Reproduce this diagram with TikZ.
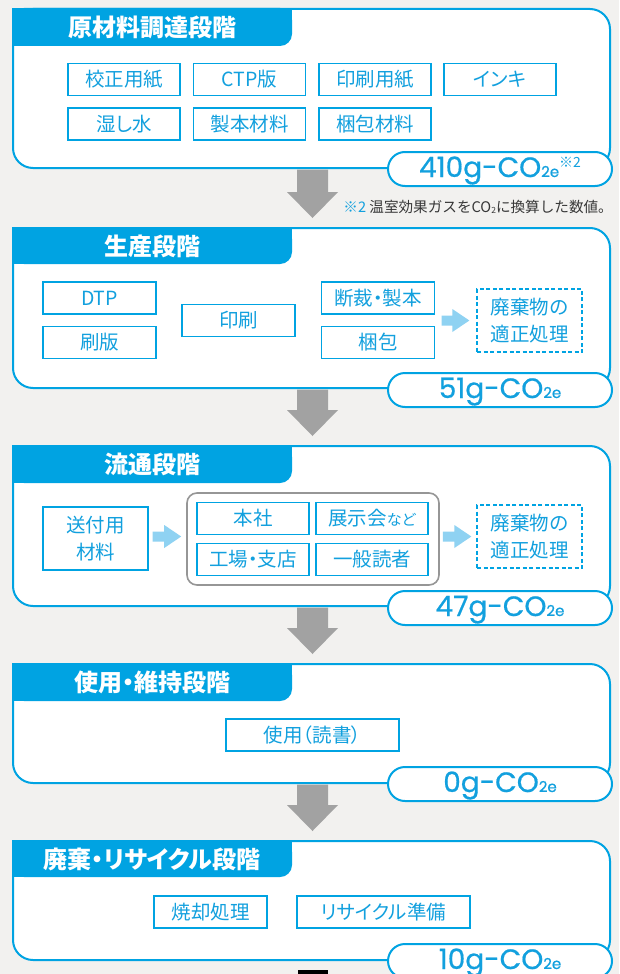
\documentclass[tikz,border=0pt]{standalone}
\usepackage{fontspec}
\setmainfont{Noto Sans CJK JP}[RawFeature=+palt]
\newfontfamily\cjkfixed{Noto Sans CJK JP}
\newfontfamily\valfont{Poppins}[FakeBold=0.6]
\usetikzlibrary{calc}
\definecolor{cblue}{RGB}{0,163,226}
\definecolor{tblue}{RGB}{18,160,222}
\definecolor{lblue}{RGB}{143,210,242}
\definecolor{garrow}{RGB}{162,162,162}
\definecolor{bgc}{RGB}{242,241,239}
\definecolor{gline}{RGB}{150,150,150}
\definecolor{notegray}{RGB}{55,55,55}

\newcommand\mystage[5]{% #1 name, #2 top, #3 header bottom, #4 bottom, #5 title
  \draw[panel] (13,#2) rectangle (610,#4);
  \fill[cblue,rounded corners=12pt] (12,#2-1) rectangle (292,#3);
  \fill[cblue] (12,#2-1) rectangle (279,#3);
  \fill[cblue] (12,#2-1) rectangle (292,#3-13);
  \node[stagetitle] (#1) at (152,{(#2+#3)/2}) {#5};
  \coordinate (#1-top) at (312.5,#2);
  \coordinate (#1-bot) at (312.5,#4);
}
\newcommand\grayarrow[2]{% from coordinate #1 down to tip #2
  \path (#1) coordinate (da-s);
  \path (#2) coordinate (da-t);
  \fill[garrow] ([xshift=-15.5pt]da-s) -- ([xshift=15.5pt]da-s)
    -- ([xshift=15.5pt,yshift=26pt]da-t) -- ([xshift=25.5pt,yshift=26pt]da-t)
    -- (da-t) -- ([xshift=-25.5pt,yshift=26pt]da-t)
    -- ([xshift=-15.5pt,yshift=26pt]da-t) -- cycle;
}
\newcommand\bluearrow[2]{% from coordinate #1 right to tip #2
  \path (#1) coordinate (ra-s);
  \path (#2) coordinate (ra-t);
  \fill[lblue] ([yshift=5pt]ra-s) -- ([xshift=-17pt,yshift=5pt]ra-t)
    -- ([xshift=-17pt,yshift=11.5pt]ra-t) -- (ra-t)
    -- ([xshift=-17pt,yshift=-11.5pt]ra-t) -- ([xshift=-17pt,yshift=-5pt]ra-t)
    -- ([yshift=-5pt]ra-s) -- cycle;
}
\newcommand\valtext[1]{{\valfont\fontsize{28}{28}\selectfont #1g-CO}{\valfont\fontsize{15}{15}\selectfont 2e}}

\begin{document}
\begin{tikzpicture}[x=1pt,y=-1pt,
  panel/.style={draw=cblue,line width=2pt,fill=white,rounded corners=20pt},
  stagetitle/.style={text=white,font=\fontsize{24}{24}\selectfont\bfseries,inner sep=0pt},
  bx/.style={draw=cblue,line width=1.4pt,fill=white,text=tblue,
    font=\fontsize{19.5}{24}\selectfont,minimum width=112pt,minimum height=32pt,inner sep=0pt},
  widebx/.style={bx,minimum width=173pt},
  dbx/.style={draw=cblue,line width=1.3pt,dash pattern=on 4pt off 2.5pt,fill=white,text=tblue,
    font=\fontsize{19.5}{27.5}\selectfont,align=center,minimum width=105pt,minimum height=63pt,inner sep=0pt},
  tallbx/.style={bx,align=center,font=\fontsize{19.5}{26.5}\selectfont,minimum width=105pt,minimum height=63pt},
  grp/.style={draw=gline,line width=1.6pt,fill=white,rounded corners=10pt,minimum width=252pt,minimum height=92pt,inner sep=0pt},
  pill/.style={draw=cblue,line width=2pt,fill=white,rounded corners=17pt,minimum width=224pt,
    minimum height=34pt,inner sep=0pt},
  valtxt/.style={text=tblue,inner sep=0pt,anchor=base},
]
\fill[bgc] (0,0) rectangle (619,974);
\useasboundingbox (0,0) rectangle (619,974);

% ---------- stage 1 ----------
\mystage{s1}{9}{46}{168}{原材料調達段階}
\node[bx] (b11) at (124,79.5) {校正用紙};
\node[bx] (b12) at (249.5,79.5) {CTP版};
\node[bx] (b13) at (375,79.5) {印刷用紙};
\node[bx] (b14) at (500,79.5) {インキ};
\node[bx] (b15) at (124,124) {湿し水};
\node[bx] (b16) at (249.5,124) {製本材料};
\node[bx] (b17) at (375,124) {梱包材料};
\node[pill] (v1) at (500,169) {};
\node[valtxt] (v1t) at ([yshift=-8pt]v1.center) {\valtext{410}\raisebox{10pt}{\fontsize{14}{14}\selectfont ※2}};

\node[anchor=east,inner sep=0pt,text=notegray,font=\cjkfixed\fontsize{14.6}{15}\selectfont] (note) at (613,207)
  {\textcolor{tblue}{※2} 温室効果ガスをCO{\raisebox{-1.5pt}{\fontsize{8.5}{8.5}\selectfont 2}}に換算した数値。};

% ---------- stage 2 ----------
\mystage{s2}{228}{264}{388}{生産段階}
\node[bx,minimum width=113pt] (dtp) at (99.5,298) {DTP};
\node[bx,minimum width=113pt] (plate) at (99.5,342.5) {刷版};
\node[bx,minimum width=113pt] (print) at (238.5,320.5) {印刷};
\node[bx,minimum width=113pt] (cut) at (378,298) {断裁・製本};
\node[bx,minimum width=113pt] (pack) at (378,342.5) {梱包};
\node[dbx] (waste1) at (529.5,320.5) {廃棄物の\\適正処理};
\coordinate (a1s) at (cut.east |- waste1.west);
\bluearrow{[xshift=6.5pt]a1s}{[xshift=-7pt]waste1.west}
\node[pill] (v2) at (500,390) {};
\node[valtxt] (v2t) at ([yshift=-8pt]v2.center) {\valtext{51}};

% ---------- stage 3 ----------
\mystage{s3}{446}{483}{606}{流通段階}
\node[tallbx] (send) at (95.5,538.5) {送付用\\材料};
\node[grp] (group) at (313,539) {};
\node[bx] (hq) at (253,518.5) {本社};
\node[bx] (expo) at (372,518.5) {展示会{\fontsize{15}{15}\selectfont など}};
\node[bx] (factory) at (253,559.5) {工場・支店};
\node[bx] (reader) at (372,559.5) {一般読者};
\node[dbx] (waste2) at (529.5,536.5) {廃棄物の\\適正処理};
\coordinate (a2s) at (send.east |- waste2.west);
\coordinate (a2t) at (group.west |- waste2.west);
\bluearrow{[xshift=4pt]a2s}{[xshift=-5pt]a2t}
\coordinate (a3s) at (group.east |- waste2.west);
\bluearrow{[xshift=3pt]a3s}{[xshift=-5pt]waste2.west}
\node[pill] (v3) at (500,608) {};
\node[valtxt] (v3t) at ([yshift=-8pt]v3.center) {\valtext{47}};

% ---------- stage 4 ----------
\mystage{s4}{664}{701}{783}{使用・維持段階}
\node[widebx] (use) at (312.5,735) {使用（読書）};
\node[pill] (v4) at (500,784) {};
\node[valtxt] (v4t) at ([yshift=-8pt]v4.center) {\valtext{0}};

% ---------- stage 5 ----------
\mystage{s5}{841}{877}{960}{廃棄・リサイクル段階}
\node[bx,minimum width=113pt] (burn) at (210.5,912) {焼却処理};
\node[widebx] (recycle) at (383.5,912) {リサイクル準備};
\node[pill] (v5) at (500,961) {};
\node[valtxt] (v5t) at ([yshift=-8pt]v5.center) {\valtext{10}};

% ---------- flow arrows ----------
\grayarrow{[yshift=-1.5pt]s1-bot}{[yshift=10pt]s2-top}
\grayarrow{[yshift=-1.5pt]s2-bot}{[yshift=10pt]s3-top}
\grayarrow{[yshift=-1.5pt]s3-bot}{[yshift=10pt]s4-top}
\grayarrow{[yshift=-1.5pt]s4-bot}{[yshift=10pt]s5-top}
\fill[black] (298,970) rectangle (328,975);
\end{tikzpicture}
\end{document}
